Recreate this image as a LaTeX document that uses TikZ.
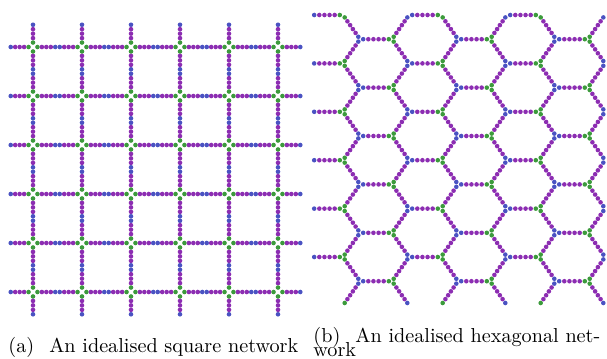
\documentclass[tikz,border=0pt]{standalone}
\usepackage{tikz}
\usetikzlibrary{calc}
\definecolor{beadgreen}{HTML}{3C9A3C}
\definecolor{beadpurple}{HTML}{8C2DB2}
\definecolor{beadblue}{HTML}{4A52C2}
\def\beadr{1.1pt}
% one chain of six beads, from its blue end to its green end
\newcommand{\hexchain}[2]{%
  \foreach \t/\col in {0.1/beadblue,0.26/beadpurple,0.42/beadpurple,0.58/beadpurple,0.74/beadpurple,0.9/beadgreen}{\fill[\col] ($(#1)!\t!(#2)$) circle (\beadr);}}

\begin{document}
\begin{tikzpicture}[x=0.48pt,y=-0.48pt,font=\fontsize{9.7pt}{11pt}\selectfont]
  \useasboundingbox (0,0) rectangle (607,358);
  % square network
  \begin{scope}
    \foreach \r in {0,...,5}{
      \foreach \m in {0,...,65}{
        \pgfmathtruncatemacro{\res}{mod(\m+6,11)}
        \ifnum\res>0\relax
          \pgfmathsetmacro{\col}{{"white","beadgreen","beadpurple","beadpurple","beadpurple","beadblue","beadblue","beadpurple","beadpurple","beadpurple","beadgreen"}[\res]}
          \pgfmathsetmacro{\posx}{33+(\m-5)*49/11}
          \pgfmathsetmacro{\posy}{47+(\m-5)*49/11}
          \fill[\col] (\posx,47+49*\r) circle (\beadr);
          \fill[\col] (33+49*\r,\posy) circle (\beadr);
        \fi
      }
    }
    \node[anchor=base west,inner sep=0pt] (capa) at (8,352) {(a)\hspace{4pt} An idealised square network};
  \end{scope}
  % hexagonal network
  \begin{scope}
    \foreach \k in {0,1,2}{
      \pgfmathsetmacro{\xo}{311+98*\k}
      \foreach \j in {0,...,11}{
        \pgfmathsetmacro{\ya}{15+24.2*\j}
        \pgfmathsetmacro{\yb}{15+24.2*(\j+1)}
        \ifodd\j\relax
          \hexchain{\xo+49,\ya}{\xo+81,\ya}
          \hexchain{\xo+49,\ya}{\xo+32,\yb}
          \hexchain{\xo+98,\yb}{\xo+81,\ya}
        \else
          \hexchain{\xo,\ya}{\xo+32,\ya}
          \hexchain{\xo+49,\yb}{\xo+32,\ya}
          \hexchain{\xo+98,\ya}{\xo+81,\yb}
        \fi
      }
    }
    \node[anchor=base west,inner sep=0pt] (capb) at (313,342.5) {(b)\hspace{4pt} An idealised hexagonal net-};
    \node[anchor=base west,inner sep=0pt] (capbwork) at ($(capb.base west)+(0,14)$) {work};
  \end{scope}
\end{tikzpicture}
\end{document}
